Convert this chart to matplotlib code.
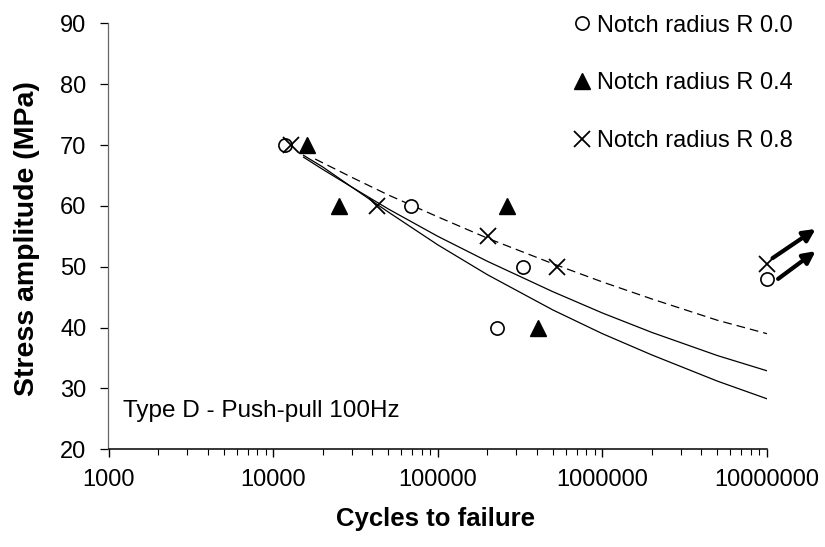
import matplotlib
matplotlib.use("Agg")
import matplotlib.pyplot as plt
import matplotlib.transforms as mtransforms
from matplotlib.ticker import LogLocator, FixedLocator, NullFormatter

plt.rcParams['font.family'] = ['Liberation Sans', 'DejaVu Sans']

# ---- data ----
r00_cycles = [11800, 69000, 330000, 229000, 10000000]
r00_stress = [70, 60, 50, 40, 48]
r04_cycles = [16000, 25000, 264000, 407000]
r04_stress = [70, 60, 60, 40]
r08_cycles = [12800, 43000, 202000, 531000, 10000000]
r08_stress = [70, 60, 55, 50, 50.5]

curve_cycles = [15300, 20000, 30000, 50000, 100000, 200000, 500000,
                1000000, 2000000, 5000000, 10000000]
curve_upper = [68.0, 66.0, 63.1, 59.5, 55.0, 50.9, 45.9, 42.4, 39.2, 35.4, 32.9]
curve_lower = [68.3, 66.4, 63.1, 59.0, 53.6, 48.7, 42.9, 39.0, 35.5, 31.2, 28.3]
dash_cycles = [18000, 30000, 50000, 100000, 200000, 500000,
               1000000, 2000000, 5000000, 10000000]
dash_stress = [67.7, 64.7, 61.8, 58.2, 54.7, 50.5, 47.5, 44.7, 41.2, 39.0]

runout_cycles = [10000000, 10000000]
runout_stress = [50.5, 48]

x_ticks = [1000, 10000, 100000, 1000000, 10000000]
x_tick_labels = ['1000', '10000', '100000', '1000000', '10000000']
y_ticks = [20, 30, 40, 50, 60, 70, 80, 90]

labels = ['Notch radius R 0.0', 'Notch radius R 0.4', 'Notch radius R 0.8']

# ---- figure ----
fig = plt.figure(figsize=(8.25, 5.47), dpi=100)
W, H = 825, 547
L, R, T, B = 108.5, 767, 23.3, 449.3
ax = fig.add_axes([L / W, 1 - B / H, (R - L) / W, (B - T) / H])

ax.set_xscale('log')
ax.set_xlim(1000, 10000000)
ax.set_ylim(20, 90)

ax.plot(curve_cycles, curve_upper, color='black', lw=0.9)
ax.plot(curve_cycles, curve_lower, color='black', lw=0.9)
ax.plot(dash_cycles, dash_stress, color='black', lw=0.9, dashes=(7, 4))

h0, = ax.plot(r00_cycles, r00_stress, 'o', ms=9.5, mfc='white', mec='black',
              mew=1.2, ls='none', clip_on=False, zorder=3)
h1, = ax.plot(r04_cycles, r04_stress, '^', ms=12, mfc='black', mec='black',
              ls='none', clip_on=False, zorder=3)
h2, = ax.plot(r08_cycles, r08_stress, 'x', ms=11, mec='black', mew=1.3,
              ls='none', clip_on=False, zorder=4)

# run-out arrows (offsets in points from the run-out data points)
arrow_offsets = [((4, 4), (35, 25)), ((8, 0), (35, 20))]
for n, s, (tail, head) in zip(runout_cycles, runout_stress, arrow_offsets):
    ax.annotate('', xy=(n, s),
                xycoords=mtransforms.offset_copy(ax.transData, fig=fig,
                                                 x=head[0], y=head[1], units='points'),
                xytext=(n, s),
                textcoords=mtransforms.offset_copy(ax.transData, fig=fig,
                                                   x=tail[0], y=tail[1], units='points'),
                arrowprops=dict(arrowstyle='-|>', lw=3, color='black',
                                mutation_scale=18, shrinkA=0, shrinkB=0),
                annotation_clip=False)

ax.xaxis.set_major_locator(FixedLocator(x_ticks))
ax.set_xticklabels(x_tick_labels)
ax.xaxis.set_minor_locator(LogLocator(base=10, subs=range(2, 10)))
ax.xaxis.set_minor_formatter(NullFormatter())
ax.set_yticks(y_ticks)

for sp in ['top', 'right']:
    ax.spines[sp].set_visible(False)
ax.spines['left'].set_color('#666666')
ax.spines['left'].set_linewidth(0.9)
ax.spines['bottom'].set_linewidth(1.1)

ax.tick_params(axis='y', direction='out', length=6, width=0.9, pad=10,
               labelsize=17)
ax.tick_params(axis='x', which='major', direction='out', length=6, width=1,
               pad=8, labelsize=17)
ax.tick_params(axis='x', which='minor', direction='out', length=4, width=0.8)

fig.text(436 / W, 1 - 519 / H, 'Cycles to failure', ha='center', va='center',
         fontsize=18.5, fontweight='bold')
fig.text(27 / W, 1 - 239 / H, 'Stress amplitude (MPa)', ha='center',
         va='center', rotation=90, fontsize=20.5, fontweight='bold')

ax.text(0.0225, 0.0765, 'Type D - Push-pull 100Hz', transform=ax.transAxes,
        ha='left', va='baseline', fontsize=17.5)

fig.legend([h0, h1, h2], labels, loc='upper left',
           bbox_to_anchor=(574.6 / W, 1 - 14.5 / H), frameon=False,
           borderpad=0, borderaxespad=0, handlelength=0.6,
           handletextpad=0.36, labelspacing=1.52, fontsize=17, numpoints=1)

fig.savefig('out.png', dpi=100)
